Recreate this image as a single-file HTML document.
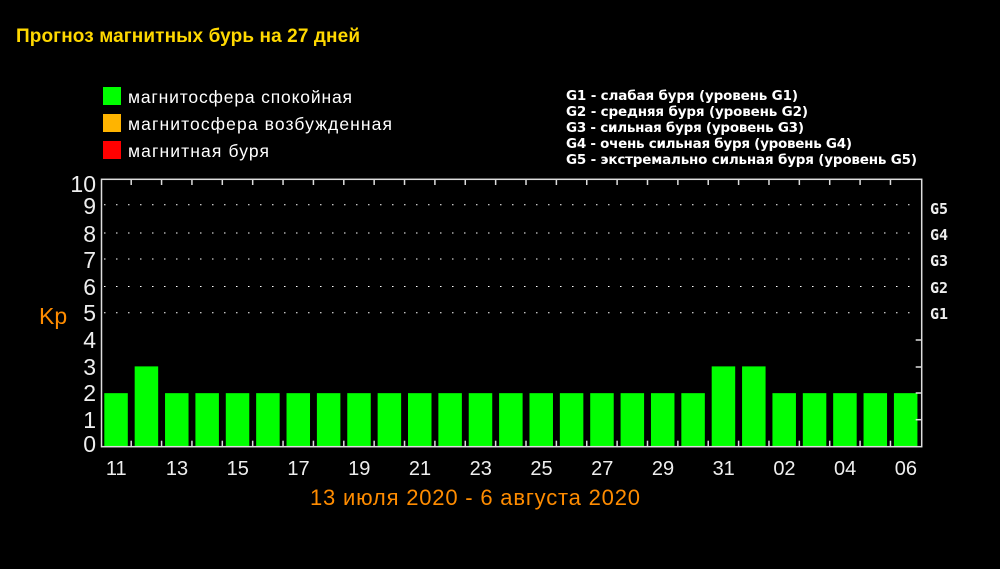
<!DOCTYPE html><html><head><meta charset="utf-8"><style>
body{margin:0;background:#000;width:1000px;height:569px;overflow:hidden}
svg{display:block}
</style></head><body>
<svg width="1000" height="569" xmlns="http://www.w3.org/2000/svg" font-family="Liberation Sans, DejaVu Sans, sans-serif">
<rect width="1000" height="569" fill="#000"/>
<text x="16" y="42" fill="#ffd800" font-size="19" font-weight="bold" textLength="344">Прогноз магнитных бурь на 27 дней</text>
<rect x="103" y="87" width="18" height="18" fill="#00ff00"/>
<rect x="103" y="114" width="18" height="18" fill="#ffb400"/>
<rect x="103" y="141" width="18" height="18" fill="#ff0000"/>
<g fill="#fff" font-size="17.5">
<text x="128" y="103" textLength="224">магнитосфера спокойная</text>
<text x="128" y="130" textLength="264">магнитосфера возбужденная</text>
<text x="128" y="157" textLength="141">магнитная буря</text>
</g>
<g fill="#fff" font-size="13.5" font-family="DejaVu Sans, sans-serif" font-weight="bold">
<text x="566" y="100" textLength="232">G1 - слабая буря (уровень G1)</text>
<text x="566" y="116" textLength="242">G2 - средняя буря (уровень G2)</text>
<text x="566" y="132" textLength="238">G3 - сильная буря (уровень G3)</text>
<text x="566" y="148" textLength="286">G4 - очень сильная буря (уровень G4)</text>
<text x="566" y="164" textLength="351">G5 - экстремально сильная буря (уровень G5)</text>
</g>
<g stroke="#fff" stroke-width="1" stroke-dasharray="1.5 10.5">
<line x1="104" x2="920" y1="204.7" y2="204.7"/>
<line x1="104" x2="920" y1="233" y2="233"/>
<line x1="104" x2="920" y1="259" y2="259"/>
<line x1="104" x2="920" y1="286.5" y2="286.5"/>
<line x1="104" x2="920" y1="312.7" y2="312.7"/>
</g>
<g id="bars" fill="#00ff00"></g>
<g id="ticks" stroke="#ddd" stroke-width="1.5"></g>
<rect x="101.5" y="179.3" width="820.2" height="267.4" fill="none" stroke="#ddd" stroke-width="1.5"/>
<g fill="#eee" font-size="23" text-anchor="end">
<text x="96" y="192">10</text><text x="96" y="214">9</text><text x="96" y="242">8</text><text x="96" y="268">7</text>
<text x="96" y="295">6</text><text x="96" y="321">5</text><text x="96" y="348">4</text><text x="96" y="375">3</text>
<text x="96" y="401">2</text><text x="96" y="428">1</text><text x="96" y="452">0</text>
</g>
<text x="39" y="324" fill="#ff8c00" font-size="23">Kp</text>
<g fill="#eee" font-size="15" font-weight="bold" font-family="DejaVu Sans Mono, monospace">
<text x="930" y="214">G5</text><text x="930" y="240">G4</text><text x="930" y="266">G3</text><text x="930" y="293">G2</text><text x="930" y="319">G1</text>
</g>
<g id="xl" fill="#eee" font-size="20" text-anchor="middle"></g>
<text x="475" y="505" fill="#ff8c00" font-size="22" text-anchor="middle" textLength="330">13 июля 2020 - 6 августа 2020</text>
</svg>
<script>
var ns="http://www.w3.org/2000/svg";
var vals=[];for(var i=0;i<27;i++)vals.push(2);vals[1]=3;vals[20]=3;vals[21]=3;
var labels=['11','13','15','17','19','21','23','25','27','29','31','02','04','06'];
var b=document.getElementById('bars'),t=document.getElementById('ticks'),xl=document.getElementById('xl');
for(var i=0;i<27;i++){var x=104.3+i*30.37;var r=document.createElementNS(ns,'rect');
var h=vals[i]*26.77;r.setAttribute('x',x);r.setAttribute('width',23.5);r.setAttribute('y',446.7-h);r.setAttribute('height',h);b.appendChild(r);
if(i<26){var tx=x+26.9;[[179.3,185],[440.7,446.7]].forEach(function(p){var l=document.createElementNS(ns,'line');l.setAttribute('x1',tx);l.setAttribute('x2',tx);l.setAttribute('y1',p[0]);l.setAttribute('y2',p[1]);t.appendChild(l);});}
if(i%2==0){var tt=document.createElementNS(ns,'text');tt.setAttribute('x',x+12);tt.setAttribute('y',475);tt.textContent=labels[i/2];xl.appendChild(tt);}}
[340,367,393,419.7].forEach(function(y){var l=document.createElementNS(ns,'line');l.setAttribute('x1',915.7);l.setAttribute('x2',921.7);l.setAttribute('y1',y);l.setAttribute('y2',y);t.appendChild(l);});
</script>
</body></html>
